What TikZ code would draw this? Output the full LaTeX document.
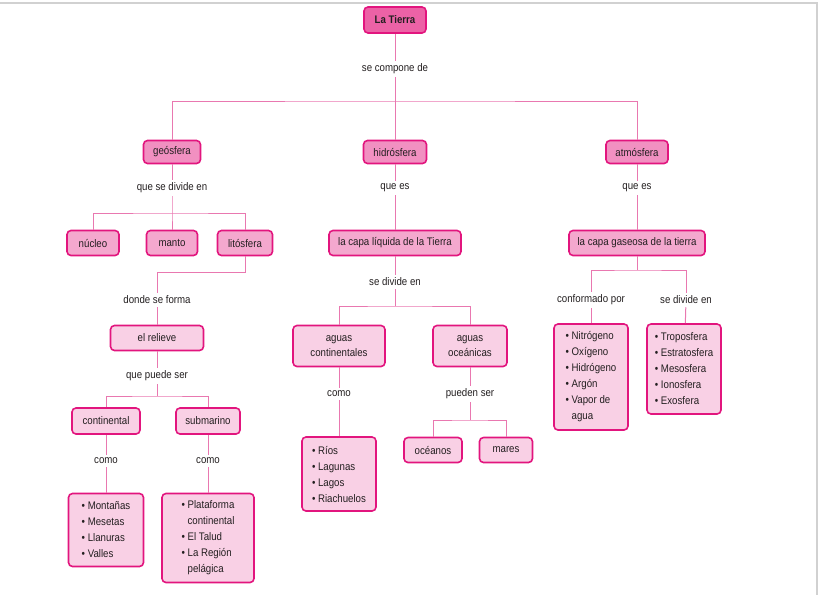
\documentclass[tikz,border=0pt]{standalone}
\usepackage{fontspec}
\setmainfont{Liberation Sans}[FakeStretch=0.88]
\definecolor{borde}{HTML}{E2157E}
\definecolor{linea}{HTML}{E978B0}
\definecolor{texto}{HTML}{231F20}
\definecolor{rosaA}{HTML}{EC62A6}
\definecolor{rosaB}{HTML}{F190C1}
\definecolor{rosaC}{HTML}{F4A8CE}
\definecolor{rosaD}{HTML}{F9D0E5}
\tikzset{
    caja/.style={draw=borde,line width=1.6pt,rounded corners=4pt,inner sep=0pt,
        align=center,text=texto,font=\fontsize{11}{15}\selectfont},
    lista/.style={caja,fill=rosaD,align=left,font=\fontsize{11}{16}\selectfont},
    rotulo/.style={inner sep=3pt,text=texto,font=\fontsize{11}{12}\selectfont},
    enlace/.style={draw=linea,line width=1pt}
}
\newcommand{\punto}{\textbullet\ }
\newcommand{\sigue}{\phantom{\textbullet\ }}
\begin{document}
\begin{tikzpicture}[x=1pt,y=-1pt]
        \useasboundingbox (0,0) rectangle (821,595);
        %% page edge
        \draw[black!18,line width=1.5pt] (0,3) -- (817,3) -- (817,595);
        %% top
        \node[caja,fill=rosaA,minimum width=62pt,minimum height=26pt,font=\fontsize{11}{12}\selectfont\bfseries] (tierra) at (395,20) {La Tierra};
        \node[rotulo] (compone) at (395,69) {se compone de};
        \coordinate (bus1) at (395,101);
        \node[caja,fill=rosaB,minimum width=57pt,minimum height=23pt] (geo) at (172,152) {geósfera};
        \node[caja,fill=rosaB,minimum width=63pt,minimum height=23pt] (hidro) at (395,152) {hidrósfera};
        \node[caja,fill=rosaB,minimum width=62pt,minimum height=23pt] (atmos) at (637,152) {atmósfera};
        \draw[enlace] (tierra) -- (compone) -- (bus1);
        \draw[enlace] (geo) |- (bus1) -| (atmos);
        \draw[enlace] (bus1) -- (hidro);
        %% geosfera
        \node[rotulo] (divide) at (172,188) {que se divide en};
        \coordinate (bus2) at (172,213);
        \node[caja,fill=rosaC,minimum width=52pt,minimum height=25pt] (nucleo) at (93,243) {núcleo};
        \node[caja,fill=rosaC,minimum width=51pt,minimum height=25pt] (manto) at (172,243) {manto};
        \node[caja,fill=rosaC,minimum width=55pt,minimum height=25pt] (lito) at (245,243) {litósfera};
        \draw[enlace] (geo) -- (divide) -- (bus2) -- (manto);
        \draw[enlace] (nucleo) |- (bus2) -| (lito);
        \coordinate (codo) at (157,272);
        \node[rotulo] (forma) at (157,300) {donde se forma};
        \node[caja,fill=rosaD,minimum width=93pt,minimum height=25pt] (relieve) at (157,338) {el relieve};
        \draw[enlace] (lito) |- (codo) -- (forma) -- (relieve);
        \node[rotulo] (puede) at (157,376) {que puede ser};
        \coordinate (bus3) at (157,396);
        \node[caja,fill=rosaD,minimum width=68pt,minimum height=26pt] (cont) at (106,421) {continental};
        \node[caja,fill=rosaD,minimum width=64pt,minimum height=26pt] (sub) at (208,421) {submarino};
        \draw[enlace] (relieve) -- (puede) -- (bus3);
        \draw[enlace] (cont) |- (bus3) -| (sub);
        \node[rotulo] (comoA) at (106,461) {como};
        \node[rotulo] (comoB) at (208,461) {como};
        \node[lista,minimum width=75pt,minimum height=73pt] (formas) at (106,530)
            {\punto Montañas\\ \punto Mesetas\\ \punto Llanuras\\ \punto Valles};
        \node[lista,minimum width=92pt,minimum height=89pt] (fondo) at (208,538)
            {\punto Plataforma\\ \sigue continental\\ \punto El Talud\\ \punto La Región\\ \sigue pelágica};
        \draw[enlace] (cont) -- (comoA) -- (formas);
        \draw[enlace] (sub) -- (comoB) -- (fondo);
        %% hidrosfera
        \node[rotulo] (queesA) at (395,188) {que es};
        \node[caja,fill=rosaC,minimum width=132pt,minimum height=25pt] (liquida) at (395,243) {la capa líquida de la Tierra};
        \node[rotulo] (divideB) at (395,282) {se divide en};
        \coordinate (bus4) at (395,306);
        \node[caja,fill=rosaD,minimum width=92pt,minimum height=41pt] (acont) at (339,346) {aguas\\continentales};
        \node[caja,fill=rosaD,minimum width=74pt,minimum height=41pt] (aoce) at (470,346) {aguas\\oceánicas};
        \draw[enlace] (hidro) -- (queesA) -- (liquida) -- (divideB) -- (bus4);
        \draw[enlace] (acont) |- (bus4) -| (aoce);
        \node[rotulo] (comoC) at (339,394) {como};
        \node[lista,minimum width=74pt,minimum height=74pt] (rios) at (339,474)
            {\punto Ríos\\ \punto Lagunas\\ \punto Lagos\\ \punto Riachuelos};
        \draw[enlace] (acont) -- (comoC) -- (rios);
        \node[rotulo] (pueden) at (470,394) {pueden ser};
        \coordinate (bus5) at (470,420);
        \node[caja,fill=rosaD,minimum width=58pt,minimum height=25pt] (oceanos) at (433,450) {océanos};
        \node[caja,fill=rosaD,minimum width=53pt,minimum height=25pt] (mares) at (506,450) {mares};
        \draw[enlace] (aoce) -- (pueden) -- (bus5);
        \draw[enlace] (oceanos) |- (bus5) -| (mares);
        %% atmosfera
        \node[rotulo] (queesB) at (637,188) {que es};
        \node[caja,fill=rosaC,minimum width=136pt,minimum height=25pt] (gaseosa) at (637,243) {la capa gaseosa de la tierra};
        \coordinate (bus6) at (637,270);
        \draw[enlace] (atmos) -- (queesB) -- (gaseosa) -- (bus6);
        \node[rotulo] (conforma) at (591,300) {conformado por};
        \node[rotulo] (divideC) at (686,300) {se divide en};
        \draw[enlace] (conforma) |- (bus6) -| (divideC);
        \node[lista,minimum width=74pt,minimum height=106pt] (gases) at (591,377)
            {\punto Nitrógeno\\ \punto Oxígeno\\ \punto Hidrógeno\\ \punto Argón\\ \punto Vapor de\\ \sigue agua};
        \node[lista,minimum width=74pt,minimum height=90pt] (capas) at (684,369)
            {\punto Troposfera\\ \punto Estratosfera\\ \punto Mesosfera\\ \punto Ionosfera\\ \punto Exosfera};
        \draw[enlace] (conforma) -- (gases);
        \draw[enlace] (divideC) -- (capas);
    \end{tikzpicture}
\end{document}
